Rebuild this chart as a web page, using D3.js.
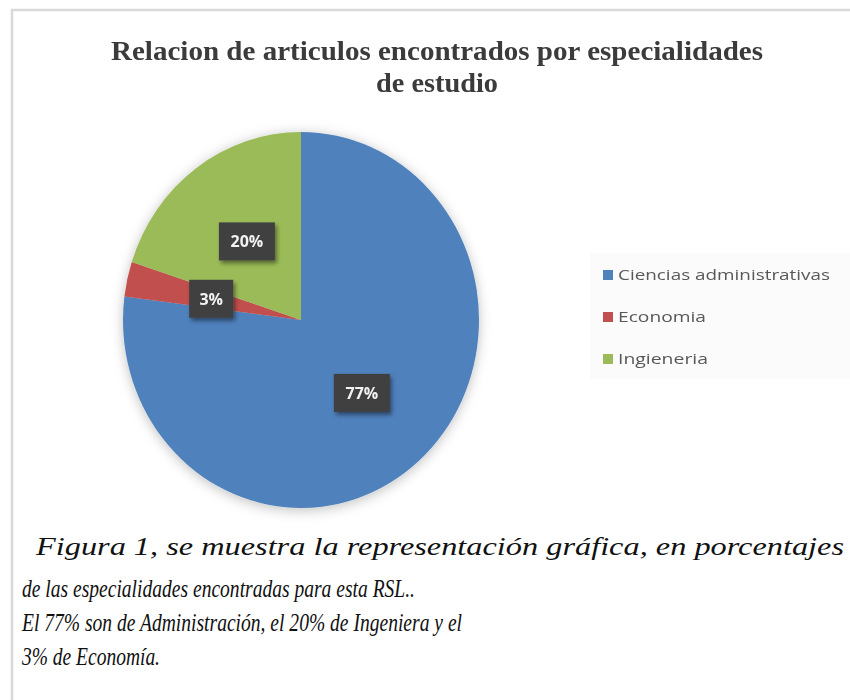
<!DOCTYPE html>
<html>
<head>
<meta charset="utf-8">
<script src="https://cdn.jsdelivr.net/npm/d3@7"></script>
<style>
  body{margin:0;background:#fff;}
  svg{display:block;}
</style>
</head>
<body>
<div id="container"></div>
<script>
const categories=['Ciencias administrativas','Economia','Ingieneria'];
const values=[77,3,20];
const colors=['#4f81bd','#c0504d','#9bbb59'];
const titleLines=['Relacion de articulos  encontrados  por especialidades','de estudio'];
const captionLines=[
  'Figura 1, se muestra la representación gráfica, en  porcentajes',
  'de las especialidades encontradas para esta RSL..',
  'El 77% son de Administración, el 20% de Ingeniera y el',
  '3% de Economía.'
];

const width=850;
const height=700;
const cx=301, cy=320;
const radius=178;
const squash=1.056; // picture is a bit taller than wide

const svg=d3.select('#container')
  .append('svg')
  .attr('width',width)
  .attr('height',height);

const defs=svg.append('defs');
defs.append('filter').attr('id','pieShadow')
  .attr('x','-20%').attr('y','-20%').attr('width','140%').attr('height','140%')
  .append('feDropShadow')
  .attr('dx',0).attr('dy',2).attr('stdDeviation',6)
  .attr('flood-color','#000').attr('flood-opacity',0.25);
defs.append('filter').attr('id','boxShadow')
  .attr('x','-30%').attr('y','-30%').attr('width','170%').attr('height','170%')
  .append('feDropShadow')
  .attr('dx',2).attr('dy',3).attr('stdDeviation',2)
  .attr('flood-color','#000').attr('flood-opacity',0.45);
defs.append('filter').attr('id','soft')
  .append('feGaussianBlur').attr('stdDeviation',0.5);

// frame
svg.append('rect')
  .attr('x',12).attr('y',10)
  .attr('width',900).attr('height',800)
  .attr('fill','#fff')
  .attr('stroke','#d9d9d9')
  .attr('stroke-width',2.5);

// title
svg.append('g').attr('filter','url(#soft)')
  .selectAll('text')
  .data(titleLines)
  .enter()
  .append('text')
  .attr('x',437)
  .attr('y',(d,i)=> 60 + i*32)
  .attr('text-anchor','middle')
  .attr('font-family','Liberation Serif')
  .attr('font-weight','bold')
  .attr('font-size',27)
  .attr('fill','#3a3a3a')
  .attr('textLength',(d,i)=> i==0 ? 652 : 122)
  .attr('lengthAdjust','spacingAndGlyphs')
  .text(d=>d);

// pie
const pie=d3.pie().sort(null).value(d=>d);
const arcs=pie(values);
const arc=d3.arc().innerRadius(0).outerRadius(radius);
const labelArc=d3.arc().innerRadius(92).outerRadius(92);

const pieG=svg.append('g')
  .attr('transform',`translate(${cx},${cy}) scale(1,${squash})`)
  .attr('filter','url(#pieShadow)');

pieG.selectAll('path')
  .data(arcs)
  .enter()
  .append('path')
  .attr('d',arc)
  .attr('fill',(d,i)=> colors[i]);

// data labels
const labels=svg.append('g')
  .selectAll('g')
  .data(arcs)
  .enter()
  .append('g')
  .attr('transform',d=>{
    const c=labelArc.centroid(d);
    return `translate(${cx+c[0]},${cy+c[1]*squash})`;
  });

labels.append('rect')
  .attr('x',d=> d.data>=10 ? -28 : -22)
  .attr('y',-19)
  .attr('width',d=> d.data>=10 ? 56 : 44)
  .attr('height',38)
  .attr('fill','#404040')
  .attr('filter','url(#boxShadow)');

labels.append('text')
  .attr('text-anchor','middle')
  .attr('y',6)
  .attr('font-family','Open Sans')
  .attr('font-weight','bold')
  .attr('font-size',16)
  .attr('fill','#f2f2f2')
  .attr('filter','url(#soft)')
  .text(d=> d.data+'%');

// legend
svg.append('rect')
  .attr('x',590).attr('y',253)
  .attr('width',262).attr('height',126)
  .attr('fill','#fbfbfb');

const legendW=[212,88,90];
const legend=svg.append('g')
  .selectAll('g')
  .data(categories)
  .enter()
  .append('g')
  .attr('transform',(d,i)=> `translate(603,${275 + i*42})`);

legend.append('rect')
  .attr('x',0).attr('y',-5)
  .attr('width',10).attr('height',10)
  .attr('fill',(d,i)=> colors[i]);

legend.append('text')
  .attr('x',15)
  .attr('y',5)
  .attr('font-family','Open Sans')
  .attr('font-size',14.5)
  .attr('fill','#595959')
  .attr('textLength',(d,i)=> legendW[i])
  .attr('lengthAdjust','spacingAndGlyphs')
  .attr('filter','url(#soft)')
  .text(d=>d);

// caption under the chart
const capX=[36,22,22,22];
const capY=[555,597,631,665];
const capW=[808,393,440,138];
svg.append('g')
  .selectAll('text')
  .data(captionLines)
  .enter()
  .append('text')
  .attr('x',(d,i)=> capX[i])
  .attr('y',(d,i)=> capY[i])
  .attr('font-family','Liberation Serif')
  .attr('font-style','italic')
  .attr('font-size',(d,i)=> i==0 ? 26 : 25)
  .attr('fill','#111')
  .attr('textLength',(d,i)=> capW[i])
  .attr('lengthAdjust','spacingAndGlyphs')
  .text(d=>d);
</script>
</body>
</html>
